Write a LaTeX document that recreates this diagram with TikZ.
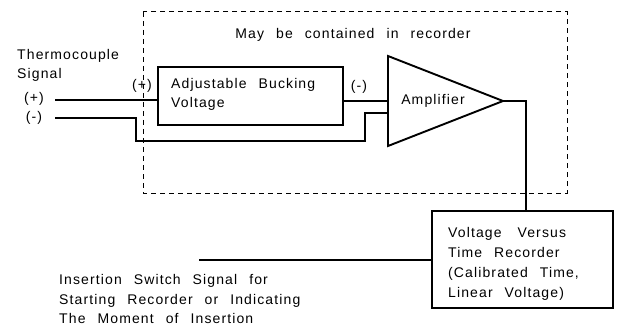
\documentclass[tikz,border=0pt]{standalone}
\usepackage{fontspec}
\setmainfont{Liberation Sans}[LetterSpace=8,WordSpace=2.4]
\begin{document}
\begin{tikzpicture}[x=1pt,y=-1pt,
  wire/.style={line width=1.6pt},
  blk/.style={draw,line width=1.8pt,inner sep=0pt},
  lbl/.style={inner sep=0pt,font=\fontsize{14}{19}\selectfont},
  mlbl/.style={lbl,align=left}]
\useasboundingbox (0,0) rectangle (618,326);
% dashed enclosure
\draw[dashed,line width=1pt,dash pattern=on 5pt off 4pt] (143,12) rectangle (567,193);
\node[lbl,anchor=base] (maybe) at (353,39) {May be contained in recorder};
% thermocouple label
\node[mlbl,anchor=base west] (tc1) at (17,60) {Thermocouple};
\node[lbl,anchor=base west] (tc2) at (17,79) {Signal};
\node[lbl] (tp) at (34,99) {(+)};
\node[lbl] (tm) at (34,118) {(-)};
% bucking box
\node[blk,minimum width=185pt,minimum height=58pt] (buck) at (250.5,96) {};
\node[lbl,anchor=base west] (b1) at (171,89) {Adjustable Bucking};
\node[lbl,anchor=base west] (b2) at (171,108) {Voltage};
\node[lbl] (bp) at (142,86) {(+)};
\node[lbl] (bm) at (359,87) {(-)};
% amplifier
\coordinate (aTL) at (388,56);
\coordinate (aBL) at (388,146);
\coordinate (aTip) at (503,101);
\coordinate (aIn1) at (388,101);
\coordinate (aIn2) at (388,113);
\draw[line width=1.9pt,line join=miter] (aTL) -- (aTip) -- (aBL) -- cycle;
\node[lbl,anchor=base] (amp) at (433,105) {Amplifier};
% recorder
\node[blk,minimum width=181pt,minimum height=97pt] (rec) at (522.5,259.5) {};
\node[lbl,anchor=base west] (r1) at (448,237) {Voltage\hspace{4pt} Versus};
\node[lbl,anchor=base west] (r2) at (448,257) {Time Recorder};
\node[lbl,anchor=base west] (r3) at (448,277) {(Calibrated Time,};
\node[lbl,anchor=base west] (r4) at (448,297) {Linear Voltage)};
% insertion switch
\node[lbl,anchor=base west] (s1) at (59,284) {Insertion Switch Signal for};
\node[lbl,anchor=base west] (s2) at (59,304) {Starting Recorder or Indicating};
\node[lbl,anchor=base west] (s3) at (59,323) {The Moment of Insertion};
\coordinate (sw) at (199,260);
% wires
\coordinate (p0) at (55,100);
\coordinate (m0) at (55,118);
\draw[wire] (p0) -- (p0 -| buck.west);
\draw[wire] (m0) -- (136,118) -- (136,141) -- (365,141) -- (365,113) -- (aIn2);
\draw[wire] (buck.east |- aIn1) -- (aIn1);
\draw[wire] (aTip) -- (526,101) -- (526,101 |- rec.north);
\draw[wire] (sw) -- (sw -| rec.west);
\end{tikzpicture}
\end{document}
